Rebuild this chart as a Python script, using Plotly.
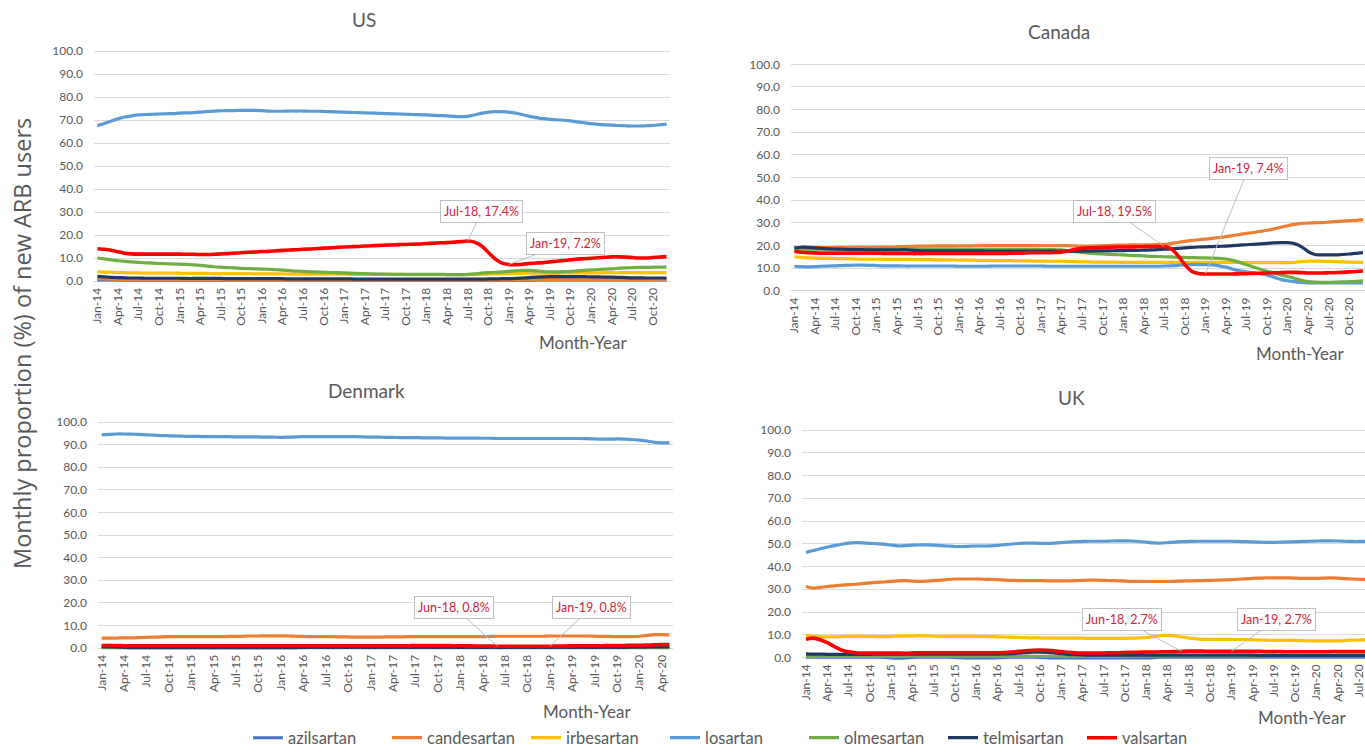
import plotly.graph_objects as go

W, H = 1365, 748
FONT = "Lato, Liberation Sans, sans-serif"
GREY = "#595959"

MONTH_NAMES = ["Jan", "Feb", "Mar", "Apr", "May", "Jun", "Jul", "Aug", "Sep", "Oct", "Nov", "Dec"]
MONTHS = [f"{m}-{y}" for y in range(14, 21) for m in MONTH_NAMES]
TICK_LABELS = MONTHS[::3]
Y_TICKS = [0, 10, 20, 30, 40, 50, 60, 70, 80, 90, 100]

DRUGS = ["azilsartan", "candesartan", "irbesartan", "losartan", "olmesartan", "telmisartan", "valsartan"]
COLORS = ["#4472C4", "#ED7D31", "#FFC000", "#5B9BD5", "#70AD47", "#1F3864", "#FF0000"]
WIDTHS = [3.2, 3.2, 3.2, 3.2, 3.2, 3.2, 3.6]

# ---------------- US (Jan-14 .. Dec-20) ----------------
us_azilsartan = [0.5, 0.5, 0.5, 0.4, 0.4, 0.4, 0.4, 0.4, 0.4, 0.4, 0.4, 0.4,
                 0.4, 0.4, 0.4, 0.4, 0.4, 0.4, 0.4, 0.4, 0.4, 0.4, 0.4, 0.4,
                 0.4, 0.4, 0.4, 0.4, 0.3, 0.3, 0.3, 0.3, 0.3, 0.3, 0.3, 0.3,
                 0.3, 0.3, 0.3, 0.3, 0.3, 0.3, 0.3, 0.3, 0.3, 0.3, 0.3, 0.3,
                 0.3, 0.3, 0.3, 0.3, 0.3, 0.3, 0.3, 0.3, 0.3, 0.3, 0.3, 0.3,
                 0.3, 0.3, 0.4, 0.4, 0.4, 0.5, 0.5, 0.5, 0.5, 0.5, 0.5, 0.5,
                 0.5, 0.5, 0.5, 0.5, 0.5, 0.5, 0.5, 0.5, 0.5, 0.5, 0.5, 0.5]
us_candesartan = [1.0, 0.9, 0.8, 0.7, 0.6, 0.5, 0.5, 0.5, 0.5, 0.5, 0.5, 0.5,
                  0.5, 0.5, 0.5, 0.5, 0.5, 0.5, 0.5, 0.5, 0.4, 0.4, 0.4, 0.4,
                  0.4, 0.4, 0.4, 0.4, 0.4, 0.4, 0.4, 0.4, 0.4, 0.4, 0.4, 0.4,
                  0.4, 0.4, 0.4, 0.4, 0.4, 0.4, 0.4, 0.4, 0.4, 0.4, 0.4, 0.4,
                  0.4, 0.4, 0.4, 0.4, 0.4, 0.4, 0.4, 0.4, 0.4, 0.4, 0.4, 0.4,
                  0.4, 0.4, 0.5, 0.5, 0.6, 0.6, 0.7, 0.7, 0.7, 0.7, 0.7, 0.7,
                  0.7, 0.7, 0.7, 0.7, 0.7, 0.7, 0.7, 0.7, 0.7, 0.7, 0.7, 0.7]
us_irbesartan = [4.0, 3.9, 3.8, 3.7, 3.6, 3.5, 3.5, 3.4, 3.4, 3.4, 3.4, 3.4,
                 3.4, 3.3, 3.3, 3.3, 3.3, 3.2, 3.2, 3.2, 3.2, 3.2, 3.2, 3.1,
                 3.1, 3.1, 3.1, 3.1, 3.0, 3.0, 3.0, 3.0, 3.0, 3.0, 3.0, 3.0,
                 3.0, 2.9, 2.9, 2.9, 2.9, 2.9, 2.9, 2.9, 2.9, 2.8, 2.8, 2.8,
                 2.8, 2.8, 2.8, 2.8, 2.8, 2.8, 2.8, 2.9, 3.0, 3.0, 3.1, 3.1,
                 3.2, 3.3, 3.3, 3.4, 3.4, 3.4, 3.4, 3.4, 3.5, 3.5, 3.5, 3.5,
                 3.5, 3.5, 3.6, 3.6, 3.6, 3.6, 3.6, 3.6, 3.6, 3.6, 3.6, 3.6]
us_losartan = [67.5, 68.5, 69.5, 70.5, 71.3, 71.8, 72.2, 72.4, 72.5, 72.6, 72.7, 72.8,
               73.0, 73.1, 73.2, 73.4, 73.7, 73.9, 74.0, 74.1, 74.1, 74.2, 74.2, 74.2,
               74.1, 73.9, 73.8, 73.8, 73.9, 73.9, 73.9, 73.8, 73.8, 73.7, 73.6, 73.5,
               73.4, 73.3, 73.2, 73.1, 73.0, 72.9, 72.8, 72.7, 72.6, 72.5, 72.4, 72.3,
               72.2, 72.0, 71.9, 71.8, 71.6, 71.5, 71.6, 72.2, 72.9, 73.4, 73.6, 73.6,
               73.4, 73.0, 72.3, 71.6, 71.0, 70.6, 70.3, 70.1, 69.9, 69.6, 69.2, 68.8,
               68.4, 68.1, 67.9, 67.8, 67.6, 67.5, 67.4, 67.4, 67.5, 67.6, 67.9, 68.2]
us_olmesartan = [10.0, 9.6, 9.2, 8.8, 8.5, 8.3, 8.1, 7.9, 7.8, 7.6, 7.5, 7.4,
                 7.3, 7.2, 7.0, 6.8, 6.5, 6.2, 6.0, 5.8, 5.7, 5.5, 5.4, 5.3,
                 5.2, 5.1, 4.9, 4.7, 4.5, 4.3, 4.2, 4.0, 3.9, 3.8, 3.7, 3.6,
                 3.5, 3.4, 3.3, 3.2, 3.1, 3.0, 3.0, 2.9, 2.9, 2.9, 2.9, 2.9,
                 2.9, 2.9, 2.9, 2.8, 2.8, 2.8, 2.9, 3.1, 3.4, 3.6, 3.8, 4.0,
                 4.2, 4.4, 4.6, 4.6, 4.4, 4.1, 4.0, 4.0, 4.1, 4.2, 4.4, 4.6,
                 4.8, 5.0, 5.2, 5.3, 5.5, 5.7, 5.8, 5.9, 5.9, 6.0, 6.0, 6.0]
us_telmisartan = [2.0, 1.8, 1.6, 1.5, 1.4, 1.3, 1.3, 1.2, 1.2, 1.2, 1.2, 1.2,
                  1.2, 1.1, 1.1, 1.1, 1.1, 1.1, 1.1, 1.0, 1.0, 1.0, 1.0, 1.0,
                  1.0, 1.0, 1.0, 1.0, 0.9, 0.9, 0.9, 0.9, 0.9, 0.9, 0.9, 0.9,
                  0.9, 0.9, 0.8, 0.8, 0.8, 0.8, 0.8, 0.8, 0.8, 0.8, 0.8, 0.8,
                  0.8, 0.8, 0.8, 0.8, 0.8, 0.8, 0.8, 0.8, 0.8, 0.9, 0.9, 1.0,
                  1.0, 1.1, 1.3, 1.5, 1.7, 1.8, 1.9, 1.9, 1.9, 1.9, 1.9, 1.9,
                  1.8, 1.8, 1.7, 1.7, 1.6, 1.5, 1.4, 1.4, 1.3, 1.3, 1.3, 1.3]
us_valsartan = [14.0, 13.8, 13.4, 12.7, 12.1, 11.8, 11.7, 11.7, 11.7, 11.7, 11.7, 11.7,
                11.7, 11.6, 11.6, 11.5, 11.5, 11.6, 11.8, 11.9, 12.1, 12.3, 12.5, 12.6,
                12.8, 12.9, 13.1, 13.3, 13.5, 13.6, 13.8, 13.9, 14.1, 14.3, 14.4, 14.6,
                14.8, 14.9, 15.0, 15.2, 15.3, 15.5, 15.6, 15.7, 15.8, 15.9, 16.0, 16.1,
                16.3, 16.4, 16.6, 16.7, 16.9, 17.1, 17.4, 16.9, 15.3, 12.5, 9.6, 7.8,
                7.2, 7.1, 7.3, 7.6, 7.8, 8.0, 8.3, 8.6, 8.9, 9.2, 9.5, 9.7,
                9.9, 10.1, 10.3, 10.5, 10.5, 10.4, 10.2, 10.0, 10.0, 10.2, 10.4, 10.6]

# ---------------- Canada (Jan-14 .. Dec-20) ----------------
ca_azilsartan = [None] * 84  # not visible in the panel
ca_candesartan = [18.7, 18.8, 18.9, 19.0, 19.0, 19.0, 19.1, 19.1, 19.1, 19.2, 19.2, 19.2,
                  19.2, 19.3, 19.3, 19.4, 19.5, 19.6, 19.7, 19.7, 19.8, 19.8, 19.8, 19.8,
                  19.8, 19.8, 19.8, 19.9, 19.9, 19.9, 19.9, 19.9, 19.9, 19.9, 19.9, 19.9,
                  19.9, 19.9, 19.9, 19.9, 19.9, 19.8, 19.7, 19.7, 19.8, 19.9, 20.0, 20.1,
                  20.1, 20.2, 20.2, 20.3, 20.3, 20.4, 20.5, 20.8, 21.3, 21.8, 22.2, 22.5,
                  22.8, 23.1, 23.5, 23.9, 24.3, 24.8, 25.3, 25.7, 26.2, 26.7, 27.3, 28.0,
                  28.7, 29.3, 29.7, 29.9, 30.0, 30.1, 30.3, 30.5, 30.7, 30.9, 31.1, 31.4]
ca_irbesartan = [15.0, 14.7, 14.5, 14.4, 14.3, 14.3, 14.2, 14.2, 14.1, 14.0, 13.9, 13.9,
                 13.9, 13.9, 13.8, 13.8, 13.8, 13.8, 13.7, 13.7, 13.7, 13.6, 13.6, 13.6,
                 13.5, 13.5, 13.5, 13.4, 13.4, 13.3, 13.3, 13.3, 13.2, 13.2, 13.2, 13.1,
                 13.1, 13.0, 13.0, 13.0, 12.9, 12.8, 12.7, 12.7, 12.6, 12.6, 12.6, 12.6,
                 12.5, 12.5, 12.5, 12.5, 12.5, 12.5, 12.5, 12.5, 12.5, 12.5, 12.5, 12.5,
                 12.5, 12.5, 12.5, 12.5, 12.5, 12.5, 12.4, 12.4, 12.4, 12.4, 12.4, 12.4,
                 12.4, 12.5, 12.8, 13.0, 13.1, 13.0, 12.9, 12.8, 12.7, 12.6, 12.5, 12.5]
ca_losartan = [10.8, 10.6, 10.5, 10.6, 10.8, 10.9, 11.0, 11.1, 11.2, 11.3, 11.3, 11.2,
               11.1, 11.0, 11.0, 11.0, 10.9, 10.9, 10.9, 10.9, 10.9, 10.9, 10.9, 10.9,
               10.8, 10.8, 10.8, 10.8, 10.8, 10.9, 10.9, 10.9, 10.9, 10.9, 10.9, 10.9,
               10.9, 10.8, 10.8, 10.8, 10.8, 10.8, 10.8, 10.8, 10.8, 10.8, 10.8, 10.8,
               10.8, 10.8, 10.8, 10.8, 10.8, 10.8, 10.9, 11.0, 11.2, 11.4, 11.5, 11.5,
               11.5, 11.4, 11.0, 10.4, 9.5, 8.8, 8.3, 8.0, 7.5, 6.9, 6.0, 5.0,
               4.4, 4.0, 3.7, 3.5, 3.5, 3.5, 3.5, 3.5, 3.5, 3.5, 3.5, 3.5]
ca_olmesartan = [18.4, 18.4, 18.4, 18.4, 18.4, 18.4, 18.4, 18.4, 18.4, 18.4, 18.4, 18.4,
                 18.4, 18.4, 18.4, 18.4, 18.4, 18.4, 18.4, 18.4, 18.4, 18.4, 18.4, 18.4,
                 18.3, 18.3, 18.3, 18.3, 18.3, 18.3, 18.3, 18.3, 18.3, 18.3, 18.3, 18.3,
                 18.2, 18.2, 18.1, 18.0, 17.6, 17.2, 16.9, 16.6, 16.4, 16.2, 16.0, 15.9,
                 15.8, 15.6, 15.5, 15.4, 15.2, 15.1, 15.0, 14.9, 14.8, 14.7, 14.6, 14.5,
                 14.5, 14.4, 14.3, 14.0, 13.4, 12.5, 11.5, 10.5, 9.5, 8.6, 7.8, 7.0,
                 6.3, 5.5, 4.6, 4.0, 3.8, 3.7, 3.7, 3.8, 3.9, 4.0, 4.1, 4.3]
ca_telmisartan = [18.9, 19.2, 19.1, 18.9, 18.7, 18.5, 18.4, 18.3, 18.2, 18.1, 18.1, 18.0,
                  18.0, 18.0, 18.0, 18.0, 18.1, 17.9, 17.7, 17.6, 17.6, 17.6, 17.6, 17.6,
                  17.6, 17.6, 17.6, 17.6, 17.5, 17.5, 17.5, 17.5, 17.5, 17.5, 17.5, 17.5,
                  17.5, 17.5, 17.5, 17.5, 17.5, 17.5, 17.5, 17.5, 17.6, 17.6, 17.6, 17.7,
                  17.7, 17.8, 17.8, 17.9, 18.0, 18.1, 18.3, 18.5, 18.7, 18.9, 19.1, 19.3,
                  19.4, 19.5, 19.6, 19.7, 19.9, 20.1, 20.3, 20.5, 20.7, 20.9, 21.1, 21.2,
                  21.2, 20.8, 19.5, 17.3, 16.0, 15.8, 15.8, 15.8, 16.0, 16.2, 16.5, 16.8]
ca_valsartan = [17.3, 17.0, 16.8, 16.7, 16.6, 16.6, 16.6, 16.6, 16.6, 16.6, 16.6, 16.6,
                16.6, 16.5, 16.5, 16.5, 16.5, 16.4, 16.4, 16.4, 16.5, 16.5, 16.5, 16.5,
                16.5, 16.5, 16.5, 16.5, 16.5, 16.5, 16.5, 16.5, 16.6, 16.6, 16.7, 16.8,
                16.8, 16.8, 16.9, 17.0, 17.6, 18.3, 18.7, 18.9, 19.0, 19.1, 19.2, 19.3,
                19.3, 19.3, 19.4, 19.4, 19.5, 19.5, 19.5, 18.5, 15.5, 11.5, 8.6, 7.6,
                7.4, 7.4, 7.4, 7.4, 7.4, 7.5, 7.5, 7.6, 7.7, 7.8, 7.9, 8.0,
                8.1, 8.1, 8.0, 7.8, 7.8, 7.8, 7.9, 8.0, 8.1, 8.3, 8.5, 8.7]

# ---------------- Denmark (Jan-14 .. May-20) ----------------
dk_azilsartan = [None] * 77  # not visible in the panel
dk_candesartan = [4.4, 4.4, 4.4, 4.5, 4.5, 4.6, 4.7, 4.8, 4.9, 5.0, 5.0, 5.0,
                  5.0, 5.0, 5.0, 5.0, 5.0, 5.1, 5.1, 5.2, 5.3, 5.3, 5.4, 5.4,
                  5.4, 5.3, 5.2, 5.1, 5.0, 5.0, 5.0, 5.0, 4.9, 4.9, 4.8, 4.8,
                  4.8, 4.8, 4.9, 4.9, 4.9, 5.0, 5.0, 5.0, 5.0, 5.0, 5.0, 5.0,
                  5.0, 5.0, 5.0, 5.0, 5.1, 5.2, 5.2, 5.2, 5.2, 5.2, 5.2, 5.2,
                  5.3, 5.3, 5.3, 5.3, 5.3, 5.3, 5.2, 5.1, 5.1, 5.0, 5.0, 5.0,
                  5.2, 5.6, 5.9, 5.9, 5.8]
dk_irbesartan = [0.3, 0.3, 0.3, 0.3, 0.3, 0.3, 0.3, 0.3, 0.3, 0.3, 0.3, 0.3,
                 0.3, 0.3, 0.3, 0.3, 0.3, 0.3, 0.3, 0.3, 0.3, 0.3, 0.3, 0.3,
                 0.3, 0.3, 0.3, 0.3, 0.3, 0.3, 0.3, 0.3, 0.3, 0.3, 0.3, 0.3,
                 0.3, 0.3, 0.3, 0.3, 0.3, 0.3, 0.3, 0.3, 0.3, 0.3, 0.3, 0.3,
                 0.3, 0.3, 0.3, 0.3, 0.3, 0.3, 0.3, 0.3, 0.3, 0.3, 0.3, 0.3,
                 0.3, 0.3, 0.3, 0.3, 0.3, 0.3, 0.3, 0.3, 0.3, 0.3, 0.3, 0.3,
                 0.3, 0.3, 0.3, 0.3, 0.3]
dk_losartan = [94.3, 94.5, 94.7, 94.7, 94.6, 94.5, 94.3, 94.2, 94.0, 93.9, 93.8, 93.7,
               93.6, 93.6, 93.5, 93.5, 93.5, 93.5, 93.4, 93.4, 93.4, 93.4, 93.3, 93.3,
               93.2, 93.3, 93.4, 93.5, 93.5, 93.5, 93.5, 93.5, 93.5, 93.5, 93.5, 93.4,
               93.3, 93.3, 93.2, 93.2, 93.1, 93.1, 93.1, 93.0, 93.0, 93.0, 92.9, 92.9,
               92.9, 92.9, 92.9, 92.8, 92.8, 92.7, 92.7, 92.7, 92.7, 92.7, 92.7, 92.7,
               92.7, 92.7, 92.7, 92.7, 92.7, 92.6, 92.5, 92.4, 92.4, 92.5, 92.4, 92.2,
               92.0, 91.6, 91.0, 90.8, 90.8]
dk_olmesartan = [0.1, 0.1, 0.1, 0.1, 0.1, 0.1, 0.1, 0.1, 0.1, 0.1, 0.1, 0.1,
                 0.1, 0.1, 0.1, 0.1, 0.1, 0.1, 0.1, 0.1, 0.1, 0.1, 0.1, 0.1,
                 0.1, 0.1, 0.1, 0.1, 0.1, 0.1, 0.1, 0.1, 0.1, 0.1, 0.1, 0.1,
                 0.1, 0.1, 0.1, 0.1, 0.1, 0.1, 0.1, 0.1, 0.1, 0.1, 0.1, 0.1,
                 0.1, 0.1, 0.1, 0.1, 0.1, 0.1, 0.1, 0.1, 0.1, 0.1, 0.1, 0.1,
                 0.1, 0.1, 0.1, 0.1, 0.1, 0.1, 0.1, 0.1, 0.1, 0.1, 0.1, 0.1,
                 0.1, 0.1, 0.1, 0.1, 0.1]
dk_telmisartan = [0.6, 0.5, 0.4, 0.3, 0.2, 0.2, 0.2, 0.2, 0.2, 0.2, 0.2, 0.2,
                  0.2, 0.2, 0.2, 0.2, 0.2, 0.2, 0.2, 0.2, 0.2, 0.2, 0.2, 0.2,
                  0.2, 0.2, 0.2, 0.3, 0.3, 0.3, 0.3, 0.3, 0.3, 0.3, 0.3, 0.3,
                  0.3, 0.3, 0.3, 0.3, 0.3, 0.3, 0.3, 0.3, 0.3, 0.3, 0.3, 0.3,
                  0.3, 0.3, 0.3, 0.3, 0.3, 0.3, 0.3, 0.3, 0.3, 0.3, 0.3, 0.3,
                  0.3, 0.3, 0.3, 0.3, 0.3, 0.3, 0.3, 0.3, 0.3, 0.3, 0.3, 0.4,
                  0.4, 0.4, 0.5, 0.5, 0.5]
dk_valsartan = [1.1, 1.1, 1.1, 1.0, 1.0, 1.0, 1.0, 1.0, 1.0, 1.0, 1.0, 1.0,
                1.0, 1.0, 1.0, 1.0, 1.0, 1.0, 1.0, 1.0, 1.0, 1.0, 1.0, 1.0,
                1.0, 1.0, 1.0, 1.0, 1.0, 1.0, 1.0, 1.0, 1.0, 1.0, 1.0, 1.0,
                1.0, 1.0, 1.0, 1.0, 1.0, 1.0, 1.1, 1.1, 1.1, 1.1, 1.1, 1.0,
                1.0, 1.0, 0.9, 0.9, 0.9, 0.8, 0.8, 0.8, 0.8, 0.8, 0.8, 0.8,
                0.8, 0.9, 0.9, 1.0, 1.0, 1.0, 1.0, 1.0, 1.1, 1.1, 1.1, 1.2,
                1.2, 1.3, 1.4, 1.5, 1.5]

# ---------------- UK (Jan-14 .. Dec-20) ----------------
uk_azilsartan = [0.1, 0.1, 0.1, 0.1, 0.1, 0.1, 0.1, 0.1, 0.1, 0.1, 0.1, 0.0,
                 -0.2, -0.3, -0.2, 0.0, 0.1, 0.1, 0.1, 0.1, 0.1, 0.0, -0.1, -0.2,
                 -0.2, -0.2, -0.2, -0.1, 0.0, 0.1, 0.1, 0.1, 0.1, 0.0, -0.1, -0.2,
                 -0.2, -0.2, -0.2, -0.2, -0.2, -0.2, -0.2, -0.2, -0.2, -0.2, -0.2, -0.2,
                 -0.2, -0.1, 0.1, 0.2, 0.2, 0.2, 0.2, 0.2, 0.2, 0.2, 0.2, 0.2,
                 0.2, 0.2, 0.2, 0.2, 0.2, 0.2, 0.2, 0.2, 0.2, 0.2, 0.2, 0.2,
                 0.2, 0.2, 0.2, 0.2, 0.2, 0.2, 0.2, 0.2, 0.2, 0.2, 0.2, 0.2]
uk_candesartan = [31.2, 30.5, 30.8, 31.2, 31.5, 31.8, 32.0, 32.2, 32.5, 32.8, 33.0, 33.2,
                  33.5, 33.7, 33.8, 33.6, 33.5, 33.6, 33.8, 34.0, 34.3, 34.5, 34.5, 34.5,
                  34.5, 34.4, 34.3, 34.2, 34.0, 33.9, 33.8, 33.8, 33.8, 33.8, 33.7, 33.7,
                  33.7, 33.7, 33.8, 33.9, 34.0, 34.0, 33.9, 33.8, 33.7, 33.6, 33.5, 33.5,
                  33.4, 33.4, 33.4, 33.4, 33.5, 33.6, 33.7, 33.8, 33.8, 33.9, 34.0, 34.1,
                  34.2, 34.4, 34.6, 34.8, 34.9, 35.0, 35.0, 35.0, 35.0, 34.9, 34.8, 34.8,
                  34.8, 34.9, 35.0, 34.9, 34.7, 34.5, 34.4, 34.3, 34.3, 34.3, 34.3, 34.3]
uk_irbesartan = [9.8, 9.3, 9.1, 9.1, 9.1, 9.2, 9.3, 9.3, 9.3, 9.3, 9.2, 9.2,
                 9.3, 9.4, 9.5, 9.5, 9.6, 9.5, 9.4, 9.3, 9.3, 9.3, 9.3, 9.3,
                 9.3, 9.3, 9.2, 9.1, 9.0, 8.9, 8.8, 8.7, 8.6, 8.6, 8.5, 8.5,
                 8.5, 8.5, 8.5, 8.5, 8.4, 8.4, 8.4, 8.4, 8.4, 8.4, 8.5, 8.6,
                 8.8, 9.2, 9.6, 9.7, 9.5, 9.0, 8.5, 8.2, 8.0, 8.0, 8.0, 8.0,
                 8.0, 8.0, 7.9, 7.8, 7.7, 7.6, 7.5, 7.5, 7.5, 7.5, 7.4, 7.3,
                 7.3, 7.3, 7.3, 7.3, 7.4, 7.6, 7.7, 7.8, 7.8, 7.8, 7.8, 7.8]
uk_losartan = [46.2, 47.0, 47.8, 48.5, 49.2, 49.8, 50.3, 50.5, 50.4, 50.2, 50.0, 49.8,
               49.4, 49.1, 49.2, 49.4, 49.5, 49.5, 49.4, 49.2, 49.0, 48.8, 48.8, 48.9,
               49.0, 49.0, 49.1, 49.3, 49.6, 49.9, 50.1, 50.3, 50.3, 50.2, 50.2, 50.3,
               50.5, 50.7, 50.9, 51.0, 51.1, 51.1, 51.1, 51.2, 51.3, 51.3, 51.2, 51.0,
               50.7, 50.4, 50.3, 50.5, 50.7, 50.9, 51.0, 51.1, 51.1, 51.1, 51.1, 51.1,
               51.1, 51.0, 50.9, 50.8, 50.7, 50.6, 50.6, 50.7, 50.8, 50.9, 51.0, 51.1,
               51.2, 51.3, 51.3, 51.2, 51.1, 51.0, 51.0, 51.0, 51.0, 51.0, 51.0, 51.0]
uk_olmesartan = [0.5, 0.5, 0.5, 0.5, 0.5, 0.5, 0.5, 0.5, 0.5, 0.5, 0.5, 0.5,
                 0.5, 0.5, 0.5, 0.5, 0.5, 0.5, 0.5, 0.5, 0.5, 0.5, 0.5, 0.5,
                 0.5, 0.5, 0.5, 0.5, 0.5, 0.5, 0.5, 0.5, 0.5, 0.5, 0.5, 0.5,
                 0.5, 0.5, 0.5, 0.5, 0.5, 0.5, 0.5, 0.5, 0.5, 0.5, 0.6, 0.6,
                 0.6, 0.7, 0.7, 0.8, 0.8, 0.8, 0.8, 0.8, 0.8, 0.8, 0.8, 0.8,
                 0.8, 0.8, 0.8, 0.8, 0.7, 0.7, 0.7, 0.7, 0.7, 0.7, 0.7, 0.7,
                 0.7, 0.7, 0.7, 0.7, 0.7, 0.7, 0.7, 0.7, 0.7, 0.7, 0.7, 0.7]
uk_telmisartan = [1.6, 1.5, 1.5, 1.4, 1.4, 1.4, 1.4, 1.4, 1.4, 1.4, 1.5, 1.5,
                  1.5, 1.5, 1.5, 1.5, 1.5, 1.5, 1.5, 1.5, 1.5, 1.5, 1.5, 1.5,
                  1.5, 1.5, 1.5, 1.5, 1.6, 1.7, 1.9, 2.1, 2.3, 2.3, 2.2, 2.0,
                  1.7, 1.4, 1.2, 1.1, 1.0, 1.0, 1.0, 1.0, 1.0, 1.0, 1.0, 1.0,
                  1.0, 1.0, 1.0, 1.0, 1.0, 1.0, 1.0, 1.0, 1.0, 1.0, 1.0, 1.0,
                  1.0, 1.0, 1.0, 1.0, 0.9, 0.9, 0.9, 0.9, 0.9, 0.9, 0.9, 0.9,
                  0.9, 0.9, 0.9, 0.9, 0.9, 0.9, 0.9, 0.9, 0.9, 0.9, 0.9, 0.9]
uk_valsartan = [8.0, 8.5, 7.8, 6.5, 4.8, 3.3, 2.5, 2.1, 2.0, 2.0, 2.0, 2.0,
                2.0, 2.0, 1.9, 2.0, 2.1, 2.1, 2.1, 2.1, 2.1, 2.1, 2.1, 2.1,
                2.1, 2.1, 2.1, 2.1, 2.2, 2.4, 2.7, 3.0, 3.2, 3.3, 3.2, 3.0,
                2.6, 2.3, 2.1, 2.0, 2.0, 2.0, 2.0, 2.1, 2.1, 2.2, 2.3, 2.3,
                2.4, 2.4, 2.5, 2.5, 2.6, 2.7, 2.8, 2.8, 2.8, 2.7, 2.7, 2.7,
                2.7, 2.7, 2.7, 2.7, 2.7, 2.6, 2.6, 2.6, 2.5, 2.5, 2.5, 2.5,
                2.5, 2.5, 2.6, 2.6, 2.6, 2.6, 2.6, 2.6, 2.6, 2.6, 2.6, 2.6]

PANELS = [
    ("US", [us_azilsartan, us_candesartan, us_irbesartan, us_losartan, us_olmesartan, us_telmisartan, us_valsartan]),
    ("Canada", [ca_azilsartan, ca_candesartan, ca_irbesartan, ca_losartan, ca_olmesartan, ca_telmisartan, ca_valsartan]),
    ("Denmark", [dk_azilsartan, dk_candesartan, dk_irbesartan, dk_losartan, dk_olmesartan, dk_telmisartan, dk_valsartan]),
    ("UK", [uk_azilsartan, uk_candesartan, uk_irbesartan, uk_losartan, uk_olmesartan, uk_telmisartan, uk_valsartan]),
]

CALLOUTS = [  # panel index, month, label
    (0, "Jul-18", "Jul-18, 17.4%"), (0, "Jan-19", "Jan-19, 7.2%"),
    (1, "Jul-18", "Jul-18, 19.5%"), (1, "Jan-19", "Jan-19, 7.4%"),
    (2, "Jun-18", "Jun-18, 0.8%"), (2, "Jan-19", "Jan-19, 0.8%"),
    (3, "Jun-18", "Jun-18, 2.7%"), (3, "Jan-19", "Jan-19, 2.7%"),
]


def px(x):
    return min(1.0, max(0.0, x / W))


def py(y):
    return 1 - y / H


# layout geometry (pixels): x_left, x_right, y_of_0, y_of_100, px_per_month, x_of_first_month
GEOM = [
    (94, 670, 281.0, 51.0, 6.857, 97.4),
    (791, 1365, 290.7, 64.3, 6.85, 794.4),
    (98, 673, 648.0, 422.0, 7.47, 101.7),
    (802, 1365, 657.5, 430.0, 7.09, 806.0),
]
Y_MIN, Y_MAX = -1.5, 100.5
TITLE_POS = [(364, 20), (1059, 31), (366, 390), (1071, 397)]
XTITLE_POS = [(583, 343), (1300, 353), (587, 711), (1302, 717)]
CALLOUT_OFFSETS = [(14, -29), (57, -21), (-50, -35), (43, -105), (-44, -39), (42, -39), (-60, -32), (45, -32)]

fig = go.Figure()
annotations = []
for p, (name, series) in enumerate(PANELS):
    sfx = "" if p == 0 else str(p + 1)
    for d, vals in enumerate(series):
        fig.add_trace(go.Scatter(
            x=MONTHS[:len(vals)], y=vals, mode="lines", name=DRUGS[d],
            legendgroup=DRUGS[d], showlegend=(p == 0),
            line=dict(color=COLORS[d], width=WIDTHS[d], shape="spline", smoothing=0.6),
            xaxis="x" + sfx, yaxis="y" + sfx, hoverinfo="skip",
        ))
    xl, xr, y0, y100, step, x0 = GEOM[p]
    xmin = (xl - x0) / step
    xmax = (xr - x0) / step
    unit = (y0 - y100) / 100.0
    ybot = y0 - Y_MIN * unit
    ytop = y0 - Y_MAX * unit
    fig.layout["xaxis" + sfx] = dict(
        domain=[px(xl), px(xr)], anchor="y" + sfx, type="category",
        categoryorder="array", categoryarray=MONTHS,
        range=[xmin, xmax], tickmode="array", tickvals=TICK_LABELS, ticktext=TICK_LABELS,
        tickangle=-90, tickfont=dict(family=FONT, size=12, color=GREY),
        showgrid=False, showline=False, zeroline=False, ticks="", fixedrange=True,
        automargin=False,
    )
    fig.layout["yaxis" + sfx] = dict(
        domain=[py(ybot), py(ytop)], anchor="x" + sfx, range=[Y_MIN, Y_MAX],
        tickmode="array", tickvals=Y_TICKS, tickformat=".1f",
        tickfont=dict(family=FONT, size=12, color=GREY), ticklabelstandoff=10,
        showgrid=True, gridcolor="#D9D9D9", gridwidth=1,
        zeroline=True, zerolinecolor="#D0D0D0", zerolinewidth=1,
        showline=False, ticks="", fixedrange=True, automargin=False,
    )
    tx, ty = TITLE_POS[p]
    annotations.append(dict(text=name, x=px(tx), y=py(ty), xref="paper", yref="paper",
                            xanchor="center", yanchor="middle", showarrow=False,
                            font=dict(family=FONT, size=19, color=GREY)))
    mx, my = XTITLE_POS[p]
    annotations.append(dict(text="Month-Year", x=px(mx), y=py(my), xref="paper", yref="paper",
                            xanchor="center", yanchor="middle", showarrow=False,
                            font=dict(family=FONT, size=17, color=GREY)))

for k, (p, month, label) in enumerate(CALLOUTS):
    sfx = "" if p == 0 else str(p + 1)
    vals = PANELS[p][1][6]
    ax, ay = CALLOUT_OFFSETS[k]
    annotations.append(dict(
        text=label, x=month, y=vals[MONTHS.index(month)], xref="x" + sfx, yref="y" + sfx,
        showarrow=True, arrowhead=0, arrowwidth=1, arrowcolor="#BFBFBF", standoff=0,
        ax=ax, ay=ay, bgcolor="white", bordercolor="#BFBFBF", borderwidth=1, borderpad=3,
        font=dict(family=FONT, size=12.5, color="#D0243A"),
    ))

annotations.append(dict(text="Monthly proportion (%) of new ARB users", x=px(22), y=py(344),
                        xref="paper", yref="paper", xanchor="center", yanchor="middle",
                        showarrow=False, textangle=-90,
                        font=dict(family="Open Sans, Liberation Sans, sans-serif", size=23.5, color=GREY)))

fig.update_layout(
    width=W, height=H, margin=dict(l=0, r=0, t=0, b=0, pad=0, autoexpand=False),
    paper_bgcolor="white", plot_bgcolor="white",
    annotations=annotations,
    legend=dict(orientation="h", x=px(248), xanchor="left", y=py(738), yanchor="middle",
                font=dict(family=FONT, size=16.5, color=GREY), entrywidth=94, entrywidthmode="pixels",
                bgcolor="rgba(0,0,0,0)", tracegroupgap=0),
)

# the page body's default 8px margin is removed so the 1365x748 figure fills the window exactly
fig.write_html("out.html", config={"displayModeBar": False},
               post_script="document.body.style.margin='0';")
